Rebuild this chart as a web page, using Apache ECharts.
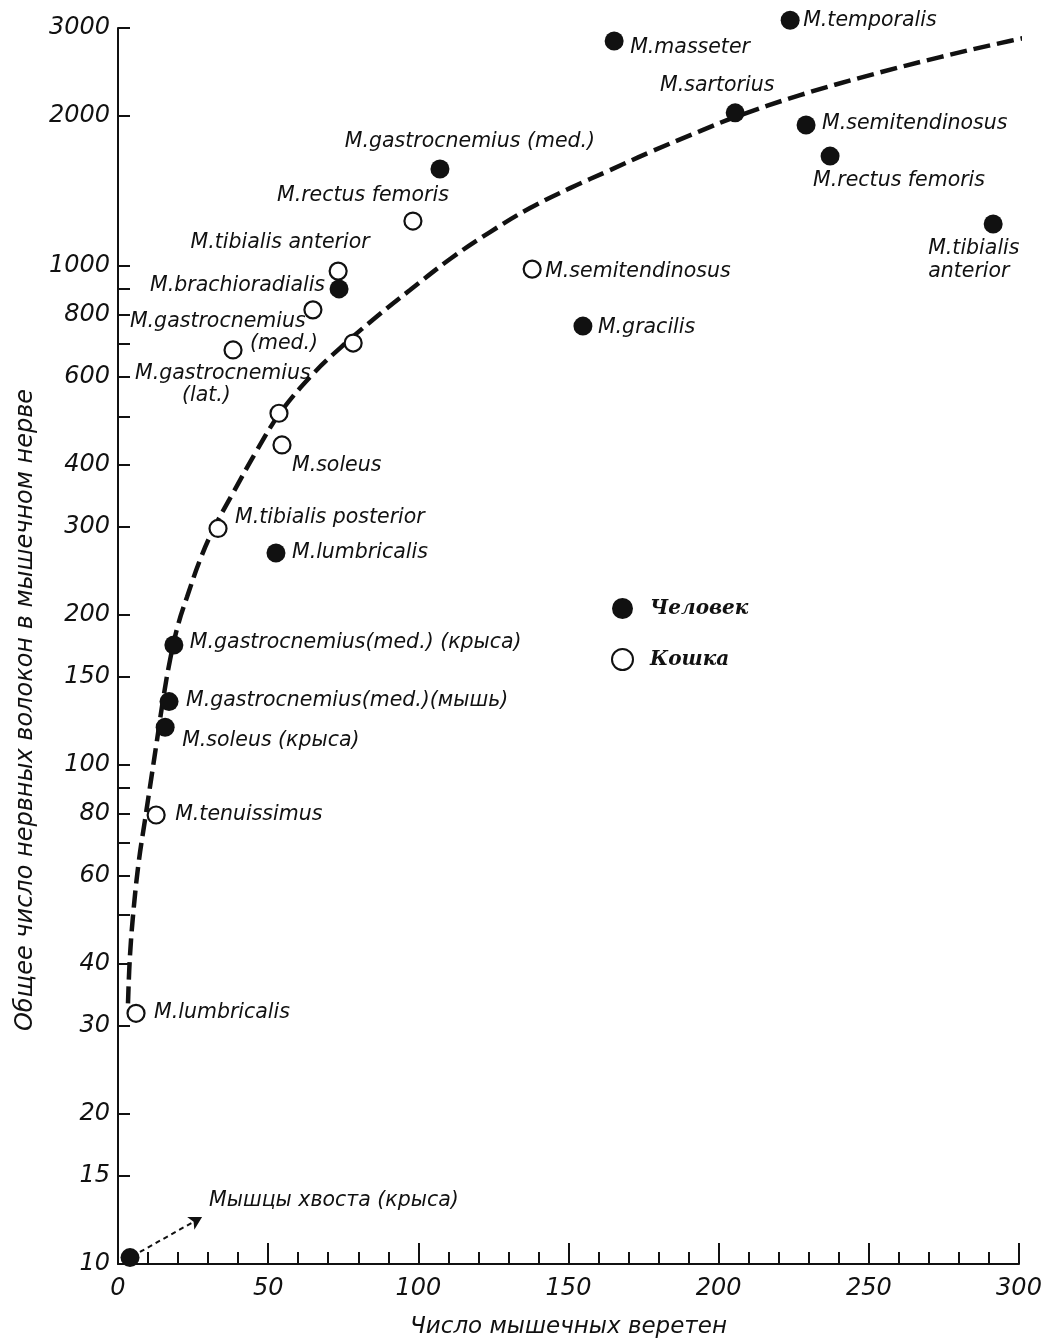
<!DOCTYPE html>
<html>
<head>
<meta charset="utf-8">
<script src="https://cdn.jsdelivr.net/npm/echarts@6/dist/echarts.min.js"></script>
<style>
html,body{margin:0;padding:0;background:#fff;}
#chart{width:1056px;height:1344px;}
</style>
</head>
<body>
<div id="chart"></div>
<script>
// ---- data ----
const humanNames = ['M.temporalis','M.masseter','M.sartorius','M.semitendinosus','M.rectus femoris','M.tibialis\nanterior','M.gastrocnemius (med.)','M.brachioradialis','M.gracilis','M.lumbricalis','M.gastrocnemius(med.) (крыса)','M.gastrocnemius(med.)(мышь)','M.soleus (крыса)','Мышцы хвоста (крыса)'];
const humanX = [223.8,165.2,205.5,229.1,237.1,291.4,107.2,73.6,154.8,52.6,18.6,17.0,15.7,4.0];
const humanY = [3110,2825,2028,1918,1661,1214,1565,900,758,266,174,134,119,10.3];

const catNames = ['M.rectus femoris','M.tibialis anterior','M.semitendinosus','M.gastrocnemius\n(med.)','M.gastrocnemius\n(lat.)','','','M.soleus','M.tibialis posterior','M.tenuissimus','M.lumbricalis'];
const catX = [98.2,73.3,137.9,64.9,38.3,78.3,53.6,54.6,33.3,12.7,6.0];
const catY = [1231,977,986,817,679,701,507,438,298,79.4,31.8];

const curveX = [3.33,4.0,5.33,6.99,8.99,10.99,12.99,14.99,17.32,19.98,22.98,27.31,31.64,38.3,46.29,53.95,63.94,73.93,85.58,97.24,110.56,123.88,137.2,150.52,163.84,177.16,193.81,205.46,227.11,250.42,273.73,293.71,304.7];
const curveY = [33.3,41.6,52.4,64.5,77.6,93.3,112.2,135.0,162.3,190.8,217.1,257.6,295.8,350.9,427.8,507.5,599.1,685.0,786.7,895.3,1033,1170,1307,1433,1557,1692,1864,1989,2201,2414,2623,2798,2890];

const arrowFrom = [7.3, 10.57];
const arrowTo = [28, 12.42];

const yTickValues = [10,15,20,30,40,50,60,70,80,90,100,150,200,300,400,500,600,700,800,900,1000,2000,3000];
const yLabelValues = [10,15,20,30,40,60,80,100,150,200,300,400,600,800,1000,2000,3000];

const seriesNames = ['Человек','Кошка'];
const xTitle = 'Число мышечных веретен';
const yTitle = 'Общее число нервных волокон в мышечном нерве';

// ---- label layout (pixel offsets from point centre) ----
const humanLabelLayout = [
  [13,0,'left'],[16,7,'left'],[-18,-27,'center'],[16,-1,'left'],[-17,25,'left'],
  [-65,36,'left'],[30,-27,'center'],[-14,-3,'right'],[15,2,'left'],[16,0,'left'],
  [16,-2,'left'],[17,-1,'left'],[17,13,'left'],[79,-57,'left']
];
const catLabelLayout = [
  [-50,-25,'center'],[-58,-28,'center'],[13,3,'left'],[-183,23,'left',120],[-98,35,'left',47],
  null,null,[10,21,'left'],[17,-11,'left'],[19,0,'left'],[18,-1,'left']
];

const FONT = 'DejaVu Sans';
const INK = '#111';
const LABEL_SIZE = 20.5;

function buildItems(names, xs, ys, layout) {
  return names.map(function (n, i) {
    const item = { name: n, value: [xs[i], ys[i]] };
    const L = layout[i];
    if (!n || !L) { item.label = { show: false }; return item; }
    const lab = {
      show: true, position: 'inside', offset: [L[0], L[1]], align: L[2], verticalAlign: 'middle',
      color: INK, fontSize: LABEL_SIZE, fontStyle: 'italic', fontFamily: FONT, lineHeight: 23
    };
    if (L[3]) {
      const parts = n.split('\n');
      lab.formatter = '{a|' + parts[0] + '}\n{b|' + parts[1] + '}';
      lab.rich = {
        a: { fontSize: LABEL_SIZE, fontStyle: 'italic', fontFamily: FONT, color: INK, lineHeight: 22 },
        b: { fontSize: LABEL_SIZE, fontStyle: 'italic', fontFamily: FONT, color: INK, lineHeight: 22, padding: [0,0,0,L[3]] }
      };
    } else {
      lab.formatter = '{b}';
    }
    item.label = lab;
    return item;
  });
}

const chart = echarts.init(document.getElementById('chart'), null, { renderer: 'canvas' });
const option = {
  animation: false,
  backgroundColor: '#fff',
  textStyle: { fontFamily: FONT, fontStyle: 'italic', color: INK },
  grid: { left: 118, top: 28, right: 37, bottom: 80, containLabel: false },
  legend: {
    orient: 'vertical', left: 606, top: 593, itemWidth: 21, itemHeight: 21, itemGap: 29,
    data: seriesNames,
    textStyle: { fontFamily: 'DejaVu Serif', fontStyle: 'italic', fontWeight: 'bold', fontSize: 20, color: INK, padding: [0,0,0,12] }
  },
  xAxis: {
    type: 'value', min: 0, max: 300, interval: 50,
    axisLine: { show: true, lineStyle: { color: INK, width: 2 } },
    axisTick: { show: true, inside: true, length: 21, lineStyle: { color: INK, width: 2 } },
    minorTick: { show: true, splitNumber: 5, length: 12, lineStyle: { color: INK, width: 2 } },
    splitLine: { show: false },
    axisLabel: { fontSize: 24, fontStyle: 'italic', fontFamily: FONT, color: INK, margin: 13 },
    name: xTitle, nameLocation: 'middle', nameGap: 52,
    nameTextStyle: { fontSize: 23, fontStyle: 'italic', fontFamily: FONT, color: INK }
  },
  yAxis: [
    {
      type: 'log', logBase: 10, min: 10, max: 3000,
      axisLine: { show: true, lineStyle: { color: INK, width: 2 } },
      axisTick: { show: false }, axisLabel: { show: false },
      splitLine: { show: false }, minorTick: { show: false }, minorSplitLine: { show: false }
    },
    {
      type: 'value', min: 1, max: Math.log10(3000), position: 'left',
      axisLine: { show: false },
      axisTick: { show: true, inside: true, length: 12, lineStyle: { color: INK, width: 2 },
        customValues: yTickValues.map(function (v) { return Math.log10(v); }) },
      axisLabel: { fontSize: 24, fontStyle: 'italic', fontFamily: FONT, color: INK, margin: 8,
        customValues: yLabelValues.map(function (v) { return Math.log10(v); }),
        formatter: function (v) { return String(Math.round(Math.pow(10, v))); } },
      splitLine: { show: false },
      name: yTitle, nameLocation: 'middle', nameGap: 76, nameRotate: 90,
      nameTextStyle: { fontSize: 24, fontStyle: 'italic', fontFamily: FONT, color: INK, padding: [0,128,0,0] }
    }
  ],
  series: [
    {
      type: 'line', name: 'curve', yAxisIndex: 0, smooth: 0.4, showSymbol: false, symbol: 'none', clip: false,
      data: curveX.map(function (x, i) { return [x, curveY[i]]; }),
      lineStyle: { color: INK, width: 4.5, type: [17, 7], cap: 'butt' },
      silent: true, z: 1
    },
    {
      type: 'scatter', name: seriesNames[0], yAxisIndex: 0, symbol: 'circle', symbolSize: 19, clip: false,
      itemStyle: { color: INK, opacity: 1 },
      data: buildItems(humanNames, humanX, humanY, humanLabelLayout),
      markLine: {
        silent: true, animation: false, symbol: ['none', 'arrow'], symbolSize: [11, 13],
        label: { show: false },
        lineStyle: { color: INK, width: 2, type: [5, 4] },
        data: [[{ coord: arrowFrom }, { coord: arrowTo }]]
      },
      z: 3
    },
    {
      type: 'scatter', name: seriesNames[1], yAxisIndex: 0, symbol: 'circle', symbolSize: 17, clip: false,
      itemStyle: { color: '#fff', borderColor: INK, borderWidth: 2.2, opacity: 1 },
      data: buildItems(catNames, catX, catY, catLabelLayout),
      z: 3
    }
  ]
};
chart.setOption(option);
</script>
</body>
</html>
